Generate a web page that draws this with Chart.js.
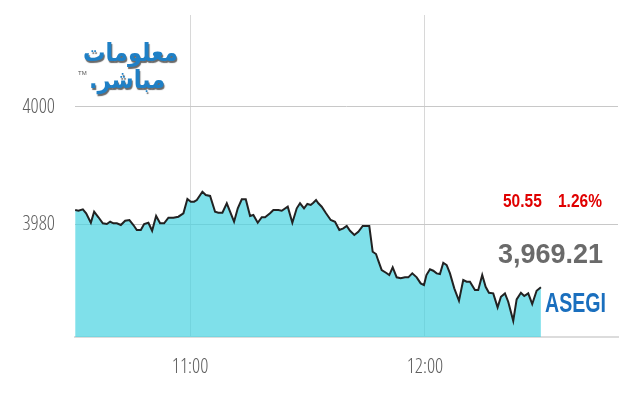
<!DOCTYPE html>
<html><head><meta charset="utf-8">
<script src="https://cdn.jsdelivr.net/npm/chart.js@4.4.0/dist/chart.umd.min.js"></script>
<style>
html,body{margin:0;padding:0;background:#fff;}
#wrap{position:relative;width:640px;height:400px;overflow:hidden;background:#fff;}
canvas{position:absolute;left:0;top:0;}
.ov{position:absolute;white-space:nowrap;font-family:"Liberation Sans",Arial,sans-serif;font-weight:bold;line-height:1;transform-origin:left top;}
.logo{position:absolute;white-space:nowrap;font-family:"DejaVu Sans",sans-serif;font-weight:bold;color:#1f80c6;text-shadow:1px 2px 1px #6a6a6a;direction:rtl;line-height:1;transform-origin:left top;}
</style></head><body>
<div id="wrap">
<canvas id="c" width="640" height="400"></canvas>
<div class="logo" style="left:83px;top:40px;font-size:25px;transform:scaleX(0.9);">معلومات</div>
<div class="logo" style="left:89px;top:67px;font-size:25px;transform:scaleX(0.9);">مباشر.</div>
<div style="position:absolute;left:78px;top:70px;font-size:6px;color:#555;font-family:'Liberation Sans',sans-serif;">TM</div>
<div class="ov" id="chg" style="left:503px;top:192px;font-size:18px;color:#e00000;transform:scaleX(0.86);"></div>
<div class="ov" id="pct" style="left:558px;top:192px;font-size:18px;color:#e00000;transform:scaleX(0.86);"></div>
<div class="ov" id="last" style="right:37px;top:241px;font-size:27px;color:#6a6a6a;transform-origin:right top;"></div>
<div class="ov" id="name" style="left:545px;top:289px;font-size:28px;color:#1a6fbe;transform:scaleX(0.70);"></div>
</div>
<script>
// minutes after 10:00
const times = [30.64,31.48,32.61,33.45,34.65,35.49,36.59,37.71,38.73,39.58,40.42,41.29,42.31,43.41,44.50,45.52,46.39,47.41,48.26,49.35,50.30,51.32,52.34,53.36,54.46,55.74,57.01,58.29,59.31,60.18,61.02,
61.71,63.14,64.01,65.11,66.38,67.22,68.25,69.37,70.21,71.23,72.18,73.20,74.22,75.32,76.16,77.28,78.30,79.15,80.42,81.27,82.54,83.41,84.94,86.12,87.24,88.08,
89.10,89.95,90.81,91.48,92.17,92.76,93.62,94.72,95.92,97.02,98.12,99.14,100.01,100.85,101.95,102.97,104.09,105.11,105.77,106.64,107.49,108.07,108.94,110.04,110.88,111.75,112.77,113.79,114.89,115.73,116.75,117.88,118.90,119.74,
120.37,121.27,122.11,122.98,123.82,124.67,125.54,126.38,127.48,128.68,129.77,130.64,131.48,132.76,133.60,134.62,135.49,136.33,137.43,138.55,139.40,140.42,141.26,142.54,143.41,144.50,145.35,146.37,147.39,148.51,149.61];
const values = [3982.39,3982.27,3982.51,3981.83,3980.22,3982.10,3981.15,3980.12,3980.00,3980.39,3980.12,3980.12,3979.83,3980.56,3980.68,3979.83,3978.97,3978.97,3980.00,3980.22,3978.85,3981.37,3980.12,3980.12,3981.08,3981.08,3981.25,3981.83,3984.27,3983.81,3983.81,
3984.10,3985.52,3984.96,3984.79,3982.10,3981.93,3981.93,3983.54,3982.10,3980.39,3982.68,3984.22,3984.22,3981.37,3981.54,3980.22,3981.15,3981.15,3981.83,3982.39,3982.39,3982.27,3982.96,3980.22,3982.68,3983.54,
3982.68,3983.42,3983.25,3983.64,3984.10,3983.54,3982.96,3981.83,3980.68,3980.39,3978.97,3979.26,3979.66,3978.85,3978.12,3978.68,3979.66,3979.66,3979.66,3975.26,3974.87,3973.73,3972.14,3971.68,3971.28,3972.60,3970.89,3970.72,3970.89,3970.89,3971.57,3970.89,3969.86,3969.57,
3971.28,3972.26,3972.02,3971.57,3971.45,3973.38,3972.99,3971.57,3969.01,3966.89,3970.43,3970.14,3970.14,3968.72,3968.72,3971.28,3969.28,3968.26,3968.15,3965.76,3967.57,3968.15,3966.72,3963.47,3967.13,3968.26,3967.69,3968.15,3966.32,3968.60,3969.21];
const yTicks = [3980, 4000];
const xTickPos = [60, 120];
const xTickLabels = ["11:00", "12:00"];
const indexName = "ASEGI";
const lastValue = "3,969.21";
const change = "50.55";
const changePct = "1.26%";

document.getElementById('chg').textContent = change;
document.getElementById('pct').textContent = changePct;
document.getElementById('last').textContent = lastValue;
document.getElementById('name').textContent = indexName;

const tickFont = {family: "'Open Sans',sans-serif", size: 20, weight: '300 condensed'};

new Chart(document.getElementById('c'), {
  type: 'line',
  data: {
    datasets: [{
      data: times.map((t, i) => ({x: t, y: values[i]})),
      borderColor: '#222222',
      borderWidth: 2,
      pointRadius: 0,
      tension: 0,
      fill: 'start',
      backgroundColor: 'rgba(72,211,225,0.7)'
    }]
  },
  options: {
    responsive: false,
    animation: false,
    maintainAspectRatio: false,
    layout: {padding: {left: 0, right: 22, top: 15, bottom: 0}},
    plugins: {legend: {display: false}, tooltip: {enabled: false}},
    scales: {
      x: {
        type: 'linear',
        min: 30.6,
        max: 169.3,
        afterBuildTicks: s => { s.ticks = xTickPos.map(v => ({value: v})); },
        afterFit: s => { s.height = 63; s.paddingLeft = 0; s.paddingRight = 0; },
        grid: {color: '#d8d8d8', lineWidth: 1, drawTicks: false},
        border: {display: true, color: '#dcdcdc', width: 2},
        ticks: {
          padding: 18, color: '#5f5f5f', font: tickFont, maxRotation: 0,
          callback: v => { const i = xTickPos.indexOf(v); return i >= 0 ? xTickLabels[i] : ''; }
        }
      },
      y: {
        min: 3960.7,
        max: 4015.7,
        afterBuildTicks: s => { s.ticks = yTicks.map(v => ({value: v})); },
        afterFit: s => { s.width = 75; s.paddingTop = 0; s.paddingBottom = 0; },
        grid: {color: '#c8c8c8', lineWidth: 1, drawTicks: false},
        border: {display: false},
        ticks: {padding: 20, color: '#5f5f5f', font: tickFont, callback: v => String(v)}
      }
    }
  }
});
</script>
</body></html>
